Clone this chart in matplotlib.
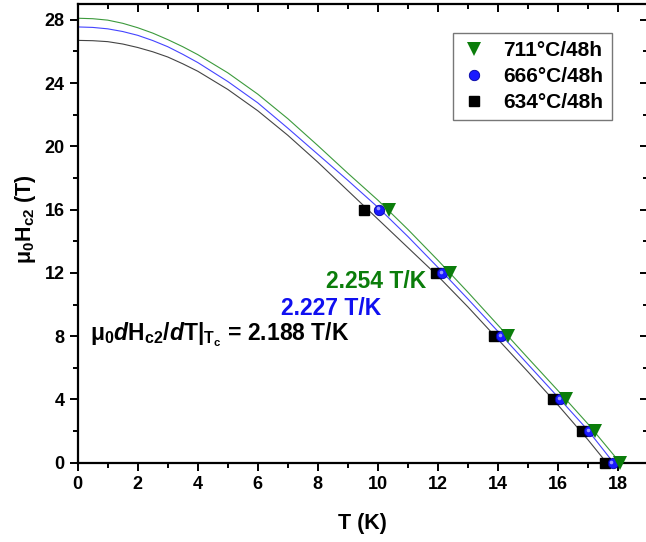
import matplotlib
matplotlib.use("Agg")
import matplotlib.pyplot as plt
from matplotlib.ticker import MultipleLocator
from matplotlib.transforms import offset_copy

plt.rcParams['font.family'] = ['Liberation Sans', 'DejaVu Sans']
plt.rcParams['font.weight'] = 'bold'
plt.rcParams['axes.labelweight'] = 'bold'
plt.rcParams['mathtext.fontset'] = 'custom'
plt.rcParams['mathtext.rm'] = 'Liberation Sans:bold'
plt.rcParams['mathtext.it'] = 'Liberation Sans:italic:bold'
plt.rcParams['mathtext.bf'] = 'Liberation Sans:bold'
plt.rcParams['mathtext.default'] = 'regular'

# measured points, mu0Hc2 (T) vs T (K)
h_pts = [16, 12, 8, 4, 2, 0]
t_711 = [10.37, 12.41, 14.33, 16.27, 17.23, 18.07]
t_666 = [10.04, 12.15, 14.11, 16.07, 17.03, 17.82]
t_634 = [9.53, 11.95, 13.87, 15.83, 16.79, 17.57]

# fit curves
fit_t_711 = [0, 0.5, 1, 1.5, 2, 2.5, 3, 3.5, 4, 5, 6, 7, 8, 9, 10, 11, 12, 13, 14, 15,
             16, 17, 18, 18.07]
fit_h_711 = [28.10, 28.07, 27.98, 27.78, 27.50, 27.16, 26.75, 26.30, 25.80, 24.65, 23.30,
             21.75, 20.05, 18.30, 16.60, 14.75, 12.80, 10.78, 8.70, 6.62, 4.56, 2.45,
             0.16, 0.0]
fit_t_666 = [0, 0.5, 1, 1.5, 2, 2.5, 3, 3.5, 4, 5, 6, 7, 8, 9, 10, 11, 12, 13, 14, 15,
             16, 17, 17.85]
fit_h_666 = [27.55, 27.52, 27.43, 27.26, 27.02, 26.69, 26.30, 25.82, 25.30, 24.10, 22.75,
             21.15, 19.50, 17.85, 16.15, 14.30, 12.35, 10.35, 8.30, 6.22, 4.15, 2.05, 0.0]
fit_t_634 = [0, 0.5, 1, 1.5, 2, 2.5, 3, 3.5, 4, 5, 6, 7, 8, 9, 10, 11, 12, 13, 14, 15,
             16, 17, 17.62]
fit_h_634 = [26.70, 26.68, 26.62, 26.47, 26.25, 25.98, 25.65, 25.22, 24.75, 23.60, 22.25,
             20.70, 19.00, 17.20, 15.40, 13.60, 11.80, 9.85, 7.80, 5.75, 3.65, 1.45, 0.0]

labels = ['711°C/48h', '666°C/48h', '634°C/48h']
slopes = ['2.254 T/K', '2.227 T/K', '2.188 T/K']

green = '#0b7d0b'
blue = '#1010f0'

fig = plt.figure(figsize=(6.46, 5.42), dpi=100)
ax = fig.add_axes([77.7 / 646, (542 - 462.7) / 542, (648 - 77.7) / 646, (462.7 - 4) / 542])

# fits
ax.plot(fit_t_634, fit_h_634, color='#444444', lw=0.8, zorder=2)
ax.plot(fit_t_666, fit_h_666, color='#4444ff', lw=0.8, zorder=2)
ax.plot(fit_t_711, fit_h_711, color='#3c9a3c', lw=0.8, zorder=2)

# data
sq, = ax.plot(t_634, h_pts, 's', color='black', ms=7.5, zorder=3, clip_on=False)
ci, = ax.plot(t_666, h_pts, 'o', color='#1a1aff', mec='#0000a0', mew=0.6, ms=7.5,
              zorder=4, clip_on=False)
hl = offset_copy(ax.transData, fig=fig, x=-1.2, y=1.2, units='dots')
ax.plot(t_666, h_pts, 'o', color='#9a9aff', mec='none', ms=2.6, zorder=4.5,
        transform=hl, clip_on=False)
tr, = ax.plot(t_711, h_pts, 'v', color=green, ms=10, mew=0, zorder=5, clip_on=False)

ax.set_xlim(0, 19)
ax.set_ylim(0, 29)
ax.xaxis.set_major_locator(MultipleLocator(2))
ax.xaxis.set_minor_locator(MultipleLocator(1))
ax.yaxis.set_major_locator(MultipleLocator(4))
ax.yaxis.set_minor_locator(MultipleLocator(2))
for s in ax.spines.values():
    s.set_linewidth(1.6)
ax.tick_params(which='both', direction='out', width=1.4, labelsize=13, top=False, right=False)
ax.tick_params(which='major', length=6)
ax.tick_params(which='minor', length=3.5)
for lab in ax.get_xticklabels() + ax.get_yticklabels():
    lab.set_fontweight('bold')

# inward ticks on top and right
sec_x = ax.secondary_xaxis('top')
sec_x.xaxis.set_major_locator(MultipleLocator(2))
sec_x.xaxis.set_minor_locator(MultipleLocator(1))
sec_x.tick_params(which='both', direction='in', width=1.4, labeltop=False)
sec_x.tick_params(which='major', length=6)
sec_x.tick_params(which='minor', length=3.5)
sec_y = ax.secondary_yaxis('right')
sec_y.yaxis.set_major_locator(MultipleLocator(4))
sec_y.yaxis.set_minor_locator(MultipleLocator(2))
sec_y.tick_params(which='both', direction='in', width=1.4, labelright=False)
sec_y.tick_params(which='major', length=6)
sec_y.tick_params(which='minor', length=3.5)
sec_x.spines['top'].set_visible(False)
sec_y.spines['right'].set_visible(False)

ax.set_xlabel('T (K)', fontsize=15.5, fontweight='bold', va='center')
ax.xaxis.set_label_coords(0.5, -0.1315)
ax.set_ylabel('μ$_0$H$_{c2}$ (T)', fontsize=15.5, fontweight='bold', va='center')
ax.yaxis.set_label_coords(-0.0907, 0.531)

# slope annotations
ax.text(9.93, 11.43, slopes[0], color=green, fontsize=16.5, ha='center', va='center')
ax.text(8.45, 9.78, slopes[1], color=blue, fontsize=16.5, ha='center', va='center')
ax.text(0.41, 8.07, 'μ$_0$$\\it{d}$H$_{c2}$/$\\it{d}$T|$_{T_c}$ = ' + slopes[2],
        color='black', fontsize=16.5, ha='left', va='center')

leg = ax.legend([tr, ci, sq], labels, loc='upper left', bbox_to_anchor=(0.6587, 0.9368),
                borderaxespad=0, frameon=True, fancybox=False,
                prop={'size': 15, 'weight': 'bold'},
                edgecolor='#555555', handlelength=1.2, handletextpad=0.8,
                borderpad=0.4, labelspacing=0.33)
leg.get_frame().set_linewidth(1.0)

fig.savefig('out.png', dpi=100)
